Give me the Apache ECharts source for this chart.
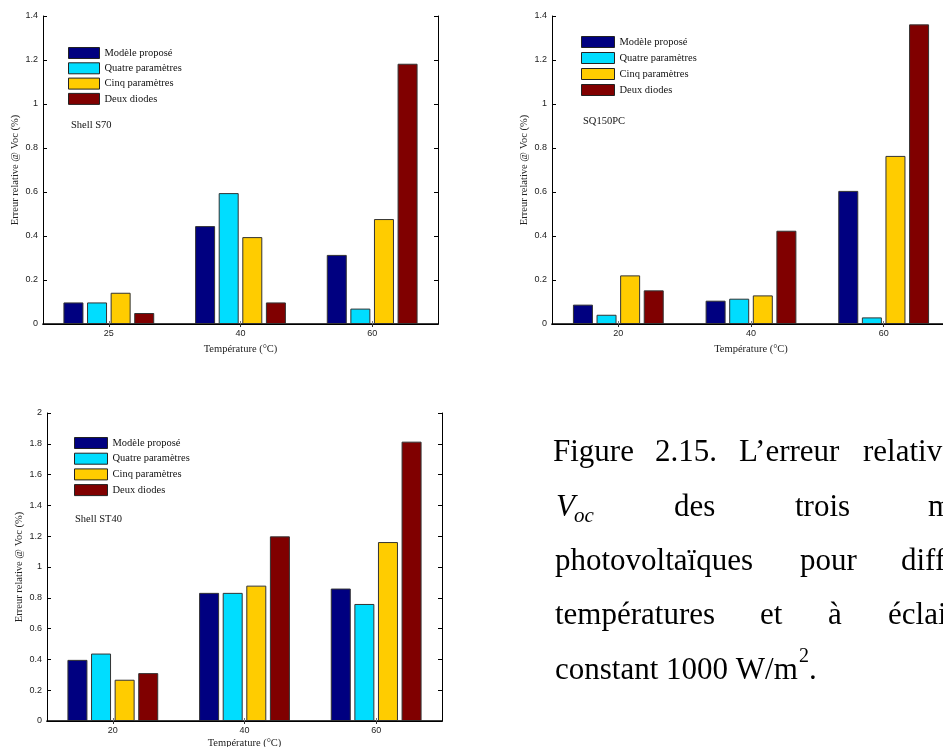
<!DOCTYPE html>
<html>
<head>
<meta charset="utf-8">
<script src="https://cdn.jsdelivr.net/npm/echarts@6/dist/echarts.min.js"></script>
<style>
  html, body { margin: 0; padding: 0; background: #ffffff; }
  #chart { width: 943px; height: 747px; }
</style>
</head>
<body>
<div id="chart"></div>
<script>
// Series shared by the three panels
const seriesNames = ['Modèle proposé', 'Quatre paramètres', 'Cinq paramètres', 'Deux diodes'];
const seriesColors = ['#000080', '#00DDFF', '#FFCC00', '#800000'];

// Shell S70 — relative error on Voc (%)
const s70Temps = ['25', '40', '60'];
const s70Modele = [0.098, 0.445, 0.314];
const s70Quatre = [0.098, 0.595, 0.070];
const s70Cinq = [0.142, 0.395, 0.477];
const s70Deux = [0.050, 0.098, 1.183];

// SQ150PC
const sq150Temps = ['20', '40', '60'];
const sq150Modele = [0.088, 0.106, 0.605];
const sq150Quatre = [0.042, 0.115, 0.030];
const sq150Cinq = [0.221, 0.130, 0.764];
const sq150Deux = [0.153, 0.424, 1.362];

// Shell ST40
const st40Temps = ['20', '40', '60'];
const st40Modele = [0.397, 0.832, 0.860];
const st40Quatre = [0.438, 0.832, 0.760];
const st40Cinq = [0.268, 0.879, 1.162];
const st40Deux = [0.311, 1.199, 1.814];

const yAxisTitle = 'Erreur relative @ Voc (%)';
const xAxisTitle = 'Température (°C)';

const SERIF = '"Liberation Serif", "Times New Roman", serif';
const SANS = '"Liberation Sans", Arial, sans-serif';

// Layout of each panel
const panels = [
  { label: 'Shell S70', temps: s70Temps, values: [s70Modele, s70Quatre, s70Cinq, s70Deux], yMax: 1.4,
    grid: { left: 43, top: 16, width: 395, height: 308 }, nameGap: 20,
    legend: { left: 68, top: 47, w: 31, gap: 3.3 }, labelAt: [71, 126] },
  { label: 'SQ150PC', temps: sq150Temps, values: [sq150Modele, sq150Quatre, sq150Cinq, sq150Deux], yMax: 1.4,
    grid: { left: 552, top: 16, width: 398, height: 308 }, nameGap: 20,
    legend: { left: 581, top: 36, w: 33, gap: 4 }, labelAt: [583, 122] },
  { label: 'Shell ST40', temps: st40Temps, values: [st40Modele, st40Quatre, st40Cinq, st40Deux], yMax: 2,
    grid: { left: 47, top: 413, width: 395, height: 308 }, nameGap: 17,
    legend: { left: 74, top: 437, w: 33, gap: 3.7 }, labelAt: [75, 520] }
];

const grids = [], xAxes = [], yAxes = [], series = [], legends = [], graphics = [];

panels.forEach((p, i) => {
  grids.push(Object.assign({ containLabel: false, outerBoundsMode: 'none' }, p.grid));

  // bottom category axis
  xAxes.push({
    gridIndex: i, type: 'category', data: p.temps, position: 'bottom',
    axisLine: { lineStyle: { color: '#000', width: 1.5 } },
    axisTick: { show: true, inside: true, length: 3, alignWithLabel: true, lineStyle: { color: '#777' } },
    axisLabel: { color: '#222', fontFamily: SANS, fontSize: 9, margin: 5 },
    name: xAxisTitle, nameLocation: 'middle', nameGap: p.nameGap,
    nameTextStyle: { color: '#222', fontFamily: SERIF, fontSize: 10.5 }
  });
  // top frame axis
  xAxes.push({
    gridIndex: i, type: 'category', data: p.temps, position: 'top',
    axisLine: { lineStyle: { color: '#000', width: 1.2 } },
    axisTick: { show: true, inside: true, length: 3, alignWithLabel: true, lineStyle: { color: '#333' } },
    axisLabel: { show: false }
  });

  // left value axis
  yAxes.push({
    gridIndex: i, type: 'value', position: 'left', min: 0, max: p.yMax, interval: 0.2,
    axisLine: { show: true, lineStyle: { color: '#000', width: 1 } },
    axisTick: { show: true, inside: true, length: 4, lineStyle: { color: '#000' } },
    splitLine: { show: false },
    axisLabel: { color: '#222', fontFamily: SANS, fontSize: 9, margin: 5 },
    name: yAxisTitle, nameLocation: 'middle', nameGap: 22,
    nameTextStyle: { color: '#222', fontFamily: SERIF, fontSize: 10.5 }
  });
  // right frame axis
  yAxes.push({
    gridIndex: i, type: 'value', position: 'right', min: 0, max: p.yMax, interval: 0.2,
    axisLine: { show: true, lineStyle: { color: '#000', width: 1 } },
    axisTick: { show: true, inside: true, length: 4, lineStyle: { color: '#000' } },
    splitLine: { show: false },
    axisLabel: { show: false }
  });

  seriesNames.forEach((name, j) => {
    series.push({
      name: name, type: 'bar',
      xAxisIndex: 2 * i, yAxisIndex: 2 * i,
      data: p.values[j],
      barWidth: 20, barGap: '18%',
      itemStyle: { color: seriesColors[j], borderColor: '#333', borderWidth: 1 }
    });
  });

  legends.push({
    data: seriesNames, orient: 'vertical', left: p.legend.left, top: p.legend.top,
    padding: 0, itemWidth: p.legend.w, itemHeight: 11, itemGap: p.legend.gap,
    icon: 'rect', selectedMode: false,
    itemStyle: { borderColor: '#222', borderWidth: 1 },
    textStyle: { color: '#111', fontFamily: SERIF, fontSize: 10.5, lineHeight: 11 }
  });

  graphics.push({
    type: 'text', left: p.labelAt[0], top: p.labelAt[1] - 6,
    style: { text: p.label, fill: '#111', font: '10.5px ' + SERIF }
  });
});

// Figure caption, justified word by word
const CAP = 31;
const captionWords = [
  { t: 'Figure', x: 553, line: 0 }, { t: '2.15.', x: 655, line: 0 },
  { t: 'L’erreur', x: 739, line: 0 }, { t: 'relative', x: 863, line: 0 },
  { t: 'des', x: 674, line: 1 }, { t: 'trois', x: 795, line: 1 }, { t: 'modules', x: 928, line: 1 },
  { t: 'photovoltaïques', x: 555, line: 2 }, { t: 'pour', x: 800, line: 2 }, { t: 'différentes', x: 901, line: 2 },
  { t: 'températures', x: 555, line: 3 }, { t: 'et', x: 760, line: 3 },
  { t: 'à', x: 828, line: 3 }, { t: 'éclairement', x: 888, line: 3 },
  { t: 'constant 1000 W/m', x: 555, line: 4 }
];
const baselines = [463, 518, 572, 626, 681];
captionWords.forEach(w => {
  graphics.push({
    type: 'text', x: w.x, y: baselines[w.line] - 10,
    style: { text: w.t, fill: '#000', font: CAP + 'px ' + SERIF, textAlign: 'left', textVerticalAlign: 'middle' }
  });
});
// V_oc
graphics.push({
  type: 'text', x: 556, y: baselines[1] - 10,
  style: { text: 'V', fill: '#000', font: 'italic ' + CAP + 'px ' + SERIF, textAlign: 'left', textVerticalAlign: 'middle' }
});
graphics.push({
  type: 'text', x: 574, y: baselines[1] - 2,
  style: { text: 'oc', fill: '#000', font: 'italic 21px ' + SERIF, textAlign: 'left', textVerticalAlign: 'middle' }
});
// m² superscript and period
graphics.push({
  type: 'text', x: 799, y: baselines[4] - 24,
  style: { text: '2', fill: '#000', font: '20px ' + SERIF, textAlign: 'left', textVerticalAlign: 'middle' }
});
graphics.push({
  type: 'text', x: 809, y: baselines[4] - 10,
  style: { text: '.', fill: '#000', font: CAP + 'px ' + SERIF, textAlign: 'left', textVerticalAlign: 'middle' }
});

const chart = echarts.init(document.getElementById('chart'), null, { renderer: 'canvas' });
chart.setOption({
  animation: false,
  backgroundColor: '#ffffff',
  grid: grids,
  xAxis: xAxes,
  yAxis: yAxes,
  legend: legends,
  series: series,
  graphic: graphics
});
</script>
</body>
</html>
